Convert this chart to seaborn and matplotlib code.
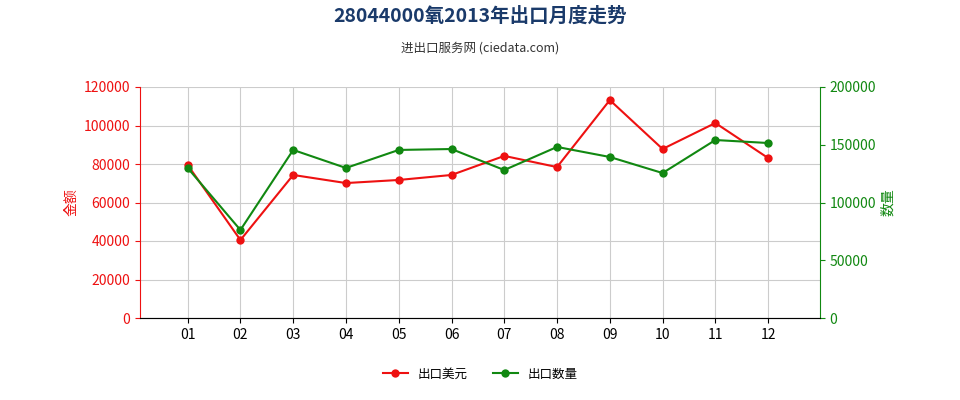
import matplotlib
matplotlib.use("Agg")
import matplotlib.pyplot as plt
from matplotlib import font_manager as fm
import seaborn as sns
import pandas as pd

cjk = [f.name for f in fm.fontManager.ttflist if "CJK" in f.name]
pref = [n for n in ["Noto Sans CJK SC", "Noto Sans CJK JP", "Noto Sans CJK TC", "Noto Sans CJK KR"] if n in cjk] or cjk
plt.rcParams["font.family"] = "sans-serif"
plt.rcParams["font.sans-serif"] = pref[:1] + ["DejaVu Sans"]
plt.rcParams["axes.unicode_minus"] = False

months = ["01","02","03","04","05","06","07","08","09","10","11","12"]
usd = [79500, 40500, 74300, 70100, 71700, 74300, 84200, 78400, 113200, 87800, 101300, 83100]
qty = [129900, 76200, 145500, 129900, 145500, 146300, 128100, 148100, 139400, 125500, 154100, 151500]

df = pd.DataFrame({"x": range(12), "usd": usd, "qty": qty})

fig = plt.figure(figsize=(9.6, 4), dpi=100)
ax = fig.add_axes([0.146, 0.205, 0.708, 0.5775])
ax2 = ax.twinx()

sns.lineplot(data=df, x="x", y="usd", ax=ax, color="#ee1111", marker="o", markersize=6,
             markeredgewidth=0, linewidth=1.5, label="出口美元", legend=False)
sns.lineplot(data=df, x="x", y="qty", ax=ax2, color="#118811", marker="o", markersize=6,
             markeredgewidth=0, linewidth=1.5, label="出口数量", legend=False)

ax.set_xlim(-0.9, 11.98)
ax.set_ylim(0, 120000)
ax2.set_ylim(0, 200000)
ax.set_xticks(range(12))
ax.set_xticklabels(months)
ax.set_yticks(range(0, 120001, 20000))
ax2.set_yticks(range(0, 200001, 50000))
ax.grid(True, color="#cccccc", linewidth=0.8)
ax.set_axisbelow(True)
ax.set_xlabel("")
ax.set_ylabel("金额", color="#ee1111", fontsize=10)
ax2.set_ylabel("数量", color="#118811", fontsize=10)
ax.tick_params(axis="y", colors="#ee1111", labelsize=10)
ax2.tick_params(axis="y", colors="#118811", labelsize=10)
ax.tick_params(axis="x", labelsize=10)
ax.spines["top"].set_visible(False); ax2.spines["top"].set_visible(False)
ax.spines["left"].set_color("#ee1111")
ax2.spines["left"].set_visible(False)
ax2.spines["right"].set_color("#118811")
ax.spines["right"].set_visible(False)
ax.spines["bottom"].set_color("#888888")

fig.text(0.5, 0.945, "28044000氧2013年出口月度走势", ha="center", fontsize=14,
         fontweight="bold", color="#1a3a6a")
fig.text(0.5, 0.87, "进出口服务网 (ciedata.com)", ha="center", fontsize=9, color="#333333")

h1, l1 = ax.get_legend_handles_labels()
h2, l2 = ax2.get_legend_handles_labels()
fig.legend(h1 + h2, l1 + l2, loc="center", bbox_to_anchor=(0.5, 0.065), ncol=2,
           frameon=False, fontsize=9)
fig.savefig("out.png")
